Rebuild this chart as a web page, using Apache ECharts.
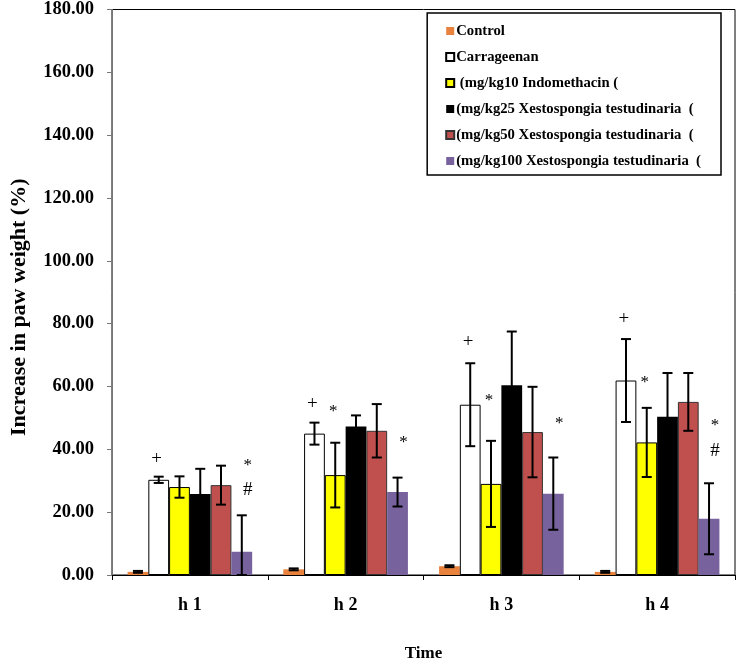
<!DOCTYPE html>
<html>
<head>
<meta charset="utf-8">
<script src="https://cdn.jsdelivr.net/npm/echarts@6/dist/echarts.min.js"></script>
<style>html,body{margin:0;padding:0;background:#fff}#c{width:738px;height:667px}</style>
</head>
<body>
<div id="c"></div>
<script>
var categories = ['h 1', 'h 2', 'h 3', 'h 4'];
var seriesNames = ['Control', 'Carrageenan', ' (mg/kg10 Indomethacin (',
  '(mg/kg25 Xestospongia testudinaria  (', '(mg/kg50 Xestospongia testudinaria  (',
  '(mg/kg100 Xestospongia testudinaria  ('];
var control = [1.0, 1.8, 2.8, 1.0];
var controlErr = [0.3, 0.3, 0.3, 0.3];
var carrageenan = [30.3, 45.0, 54.2, 61.9];
var carrageenanErr = [1.0, 3.5, 13.2, 13.2];
var indomethacin = [28.0, 31.8, 29.0, 42.2];
var indomethacinErr = [3.4, 10.3, 13.7, 11.0];
var xesto25 = [25.8, 47.3, 60.4, 50.4];
var xesto25Err = [8.0, 3.5, 17.1, 13.9];
var xesto50 = [28.6, 45.9, 45.5, 55.1];
var xesto50Err = [6.2, 8.5, 14.4, 9.2];
var xesto100 = [7.4, 26.4, 25.9, 17.9];
var xesto100Err = [11.6, 4.6, 11.5, 11.3];
var yTicks = [0, 20, 40, 60, 80, 100, 120, 140, 160, 180];
// [category index, series index, y value of mark, mark text]
var annotations = [
  [0, 1, 37.0, '+'], [0, 5, 34.9, '*'], [0, 5, 27.1, '#'],
  [1, 1, 54.4, '+'], [1, 2, 52.0, '*'], [1, 5, 42.3, '*'],
  [2, 1, 74.3, '+'], [2, 2, 55.6, '*'], [2, 5, 48.1, '*'],
  [3, 1, 81.6, '+'], [3, 2, 61.3, '*'], [3, 5, 47.5, '*'], [3, 5, 39.5, '#']
];

var values = [control, carrageenan, indomethacin, xesto25, xesto50, xesto100];
var errs = [controlErr, carrageenanErr, indomethacinErr, xesto25Err, xesto50Err, xesto100Err];
var styles = [
  {color: '#E8823C'},
  {color: '#FFFFFF', borderColor: '#000', borderWidth: 1},
  {color: '#FFFF00', borderColor: '#000', borderWidth: 1},
  {color: '#000000'},
  {color: '#C0504D', borderColor: '#333', borderWidth: 1},
  {color: '#78629E'}
];
var NS = 6, GAP = 0.2;

function barCenter(api, cat, s) {
  var band = api.size([1, 0])[0];
  var c = api.coord([cat, 0])[0];
  var bw = band * (1 - GAP) / NS;
  return c - band * (1 - GAP) / 2 + bw * (s + 0.5);
}

var errData = [];
for (var s = 0; s < NS; s++) {
  for (var i = 0; i < categories.length; i++) {
    var v = values[s][i], e = errs[s][i];
    errData.push([i, Math.max(0, v - e), v + e, s]);
  }
}

var series = [];
for (var s = 0; s < NS; s++) {
  series.push({
    name: seriesNames[s], type: 'bar', data: values[s],
    barGap: 0, barCategoryGap: '20%',
    itemStyle: styles[s], z: 2
  });
}
series.push({
  type: 'custom', name: 'err', data: errData, z: 5,
  encode: {x: 0, y: [1, 2]},
  renderItem: function (params, api) {
    var cat = api.value(0), s = api.value(3);
    var x = barCenter(api, cat, s);
    var yl = api.coord([cat, api.value(1)])[1];
    var yh = api.coord([cat, api.value(2)])[1];
    var hw = 5;
    var st = {stroke: '#000', lineWidth: 2};
    return {type: 'group', children: [
      {type: 'line', shape: {x1: x, y1: yl, x2: x, y2: yh}, style: st},
      {type: 'line', shape: {x1: x - hw, y1: yh, x2: x + hw, y2: yh}, style: st},
      {type: 'line', shape: {x1: x - hw, y1: yl, x2: x + hw, y2: yl}, style: st}
    ]};
  }
});
series.push({
  type: 'custom', name: 'marks', data: annotations, z: 6,
  encode: {x: 0, y: 2},
  renderItem: function (params, api) {
    var cat = api.value(0), s = api.value(1);
    var x = barCenter(api, cat, s) + (s === 5 ? 6 : -2);
    var y = api.coord([cat, api.value(2)])[1];
    var t = annotations[params.dataIndex][3];
    return {type: 'text', x: x, y: y, style: {
      text: t, fill: '#000', align: 'center', verticalAlign: 'middle',
      font: (t === '*' ? '17px' : '19px') + ' "Liberation Serif"'
    }};
  }
});

var chart = echarts.init(document.getElementById('c'), null, {renderer: 'canvas'});
chart.setOption({
  animation: false,
  backgroundColor: '#fff',
  grid: {left: 101, right: 3, top: 7, bottom: 80, show: true, borderColor: '#000', borderWidth: 1},
  legend: {
    data: seriesNames, orient: 'vertical', right: 17, top: 13,
    icon: 'rect', itemWidth: 8, itemHeight: 8, itemGap: 10,
    padding: [10, 20, 6, 18], borderColor: '#000', borderWidth: 1.5,
    backgroundColor: '#fff',
    textStyle: {fontFamily: 'Liberation Serif', fontWeight: 'bold', fontSize: 14.7, color: '#000', lineHeight: 16, padding: [0, 0, 0, -3]}
  },
  xAxis: {
    type: 'category', data: categories,
    name: 'Time', nameLocation: 'middle', nameGap: 70,
    nameTextStyle: {fontFamily: 'Liberation Serif', fontWeight: 'bold', fontSize: 17, color: '#000'},
    axisLine: {lineStyle: {color: '#000', width: 1}},
    axisTick: {show: true, length: 5, inside: false, lineStyle: {color: '#000'}},
    axisLabel: {fontFamily: 'Liberation Serif', fontWeight: 'bold', fontSize: 18, color: '#000', margin: 21}
  },
  yAxis: {
    type: 'value', min: yTicks[0], max: yTicks[yTicks.length - 1], interval: yTicks[1] - yTicks[0],
    name: 'Increase in paw weight (%)', nameLocation: 'middle', nameGap: 82, nameRotate: 90,
    nameTextStyle: {fontFamily: 'Liberation Serif', fontWeight: 'bold', fontSize: 22, color: '#000', padding: [0, 30, 0, 0]},
    axisLine: {show: true, lineStyle: {color: '#777', width: 1}},
    axisTick: {show: true, length: 5, lineStyle: {color: '#777'}},
    splitLine: {show: false},
    axisLabel: {fontFamily: 'Liberation Serif', fontWeight: 'bold', fontSize: 18.5, color: '#000', margin: 18,
      formatter: function (v) { return v.toFixed(2); }}
  },
  series: series
});
</script>
</body>
</html>
